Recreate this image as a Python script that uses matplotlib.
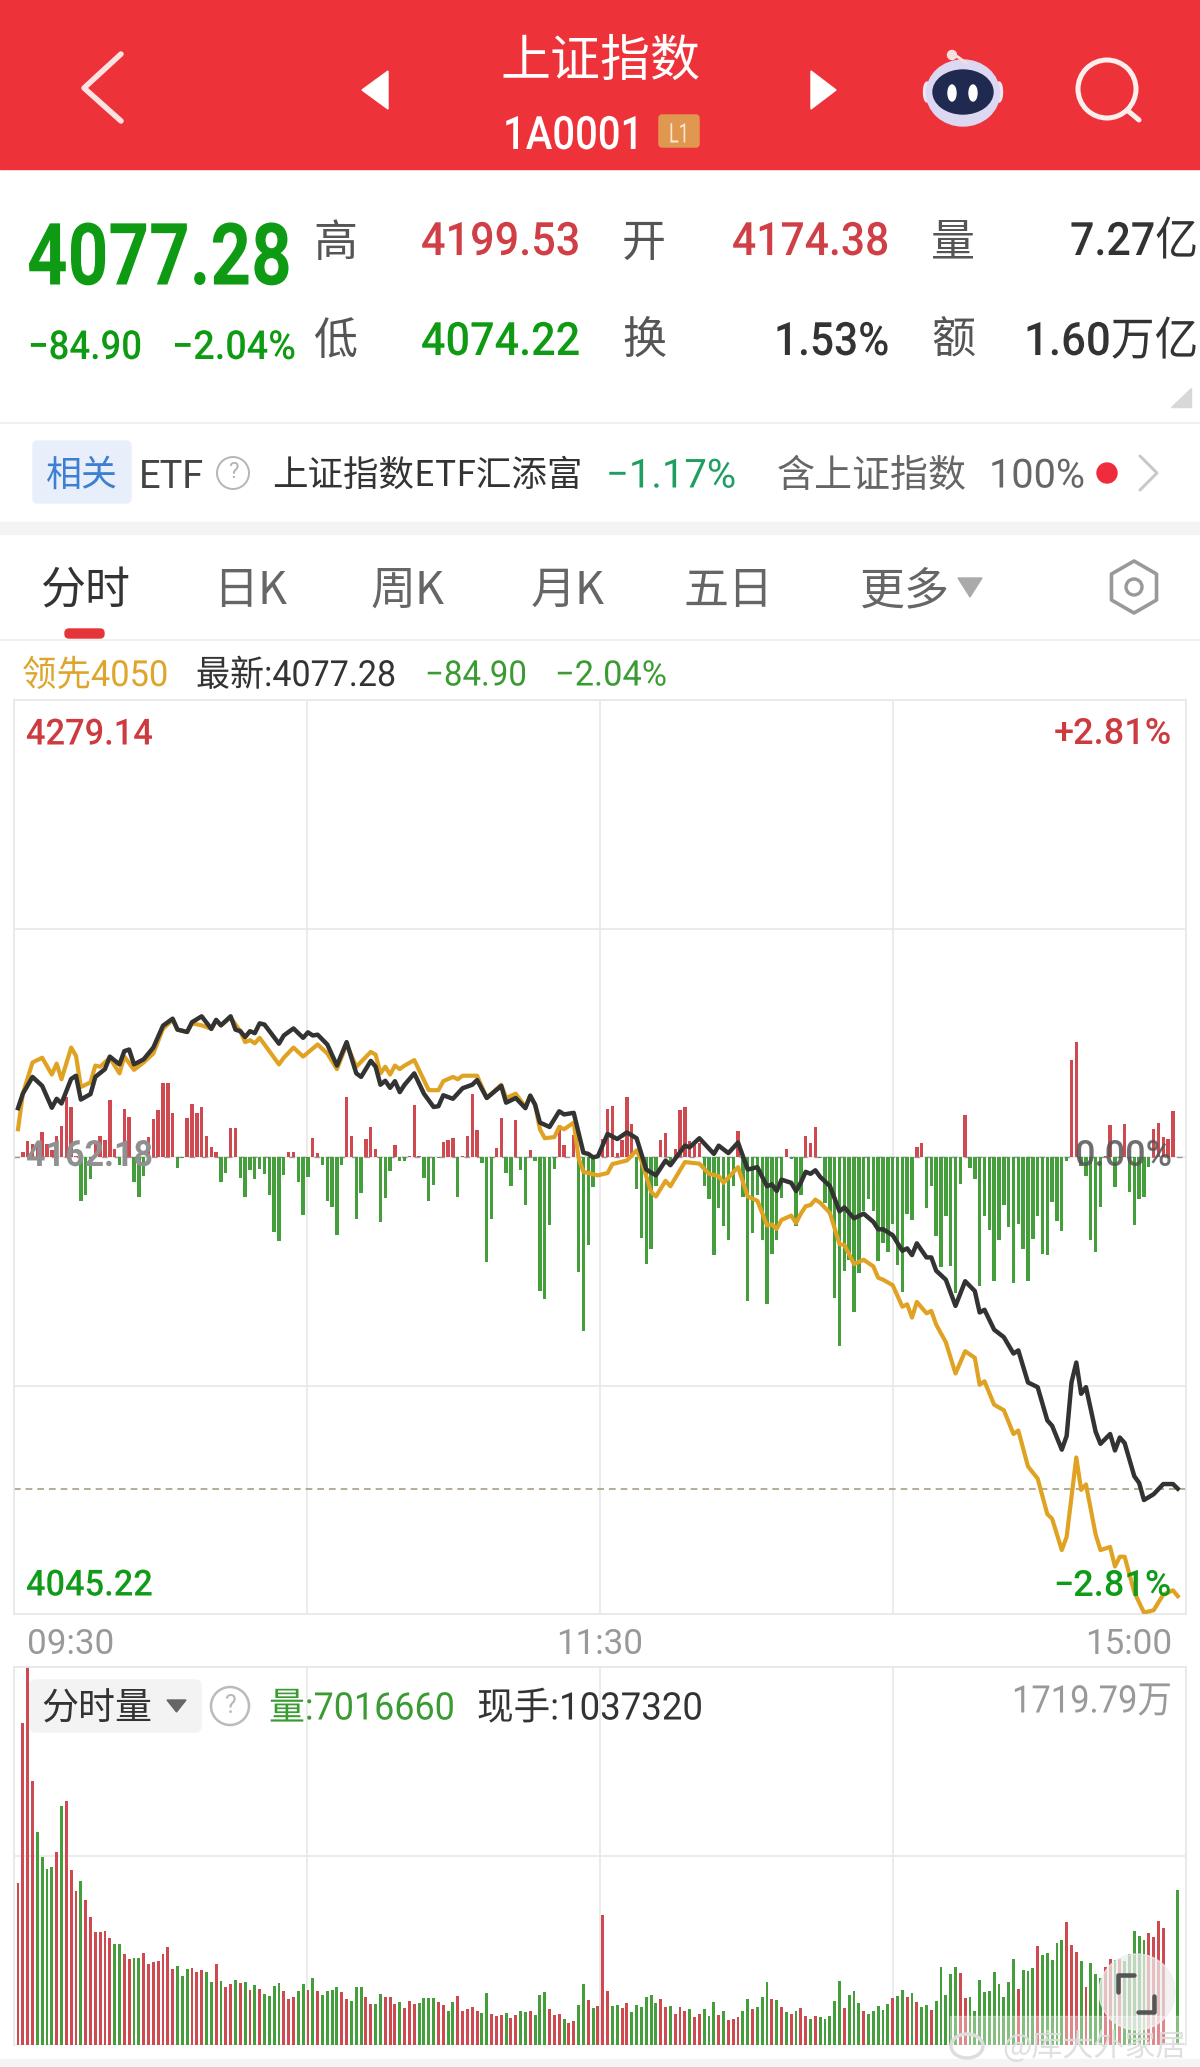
import numpy as np
import matplotlib.pyplot as plt
from matplotlib.patches import Circle, Ellipse, FancyBboxPatch, Polygon, Rectangle
from matplotlib.patheffects import AbstractPathEffect
from matplotlib.transforms import Affine2D

ROBOTO = ['Roboto', 'Noto Sans CJK SC', 'DejaVu Sans']
CJK = ['Noto Sans CJK SC', 'DejaVu Sans']
plt.rcParams['font.family'] = CJK

prev_close = 4162.18
price_top = 4279.14
price_bottom = 4045.22
vol_max = 1719.79

# index line, change from previous close at the given minute
index_min = [0, 1, 3, 5, 7, 8, 9, 11, 12, 13, 15, 16, 18, 19, 21, 22, 23, 24, 26, 28, 30, 32, 33, 35, 36, 38, 40, 41, 42, 44, 45, 46, 47, 48, 49, 50, 51, 54, 55, 57, 59, 60, 61, 62, 64, 66, 68, 70, 71, 73, 74, 75, 76, 77, 78, 79,
             80, 82, 84, 86, 87, 88, 90, 92, 94, 95, 97, 100, 101, 103, 105, 106, 107, 108, 110, 112, 113, 115, 117, 118, 119, 120, 122, 124, 126, 128, 130, 132, 134, 135, 138, 139, 141, 144, 145, 147, 149, 151, 153, 155, 156, 157, 158, 160, 161, 162,
             163, 164, 165, 166, 168, 170, 171, 173, 175, 177, 178, 179, 181, 183, 184, 185, 186, 188, 189, 190, 192, 194, 196, 198, 199, 200, 202, 204, 206, 207, 209, 211, 213, 214, 216, 217, 218, 219, 220, 221, 223, 224, 226, 227, 228, 229, 231, 232, 233, 235, 237, 239, 240]
index_chg = [12.5, 16.2, 20.5, 18.2, 12.6, 14.9, 13.7, 20.0, 20.8, 14.7, 16.1, 20.5, 22.5, 25.7, 23.7, 27.1, 27.5, 23.7, 25.0, 28.0, 33.6, 35.4, 32.6, 32.0, 34.5, 36.0, 32.8, 35.1, 33.7, 36.0, 32.6, 32.2, 30.7, 32.2, 31.7, 34.2, 33.9, 29.0, 31.1, 32.9, 30.5, 31.9, 31.1, 31.3, 28.8, 23.4, 29.4, 21.4, 20.5, 24.6, 23.1, 18.5, 19.5, 17.7, 19.4, 16.6,
             18.5, 21.4, 16.2, 12.8, 13.0, 15.8, 14.9, 17.6, 18.5, 19.7, 15.1, 18.2, 13.9, 15.1, 12.5, 15.7, 13.4, 8.8, 7.7, 11.7, 10.9, 11.3, 1.1, 0.8, -0.1, 0.2, 5.9, 4.6, 6.3, 4.8, -3.2, -4.7, -0.9, -2.1, 2.9, 2.5, 4.8, 0.8, 2.9, 1.0, 3.7, -3.2, -2.6, -7.5, -7.0, -8.7, -5.8, -6.6, -8.7, -6.5,
             -3.8, -4.3, -3.4, -5.1, -7.4, -13.9, -12.9, -15.7, -14.5, -16.6, -18.5, -18.5, -20.0, -24.0, -23.4, -25.1, -22.1, -25.7, -25.7, -29.1, -31.4, -38.1, -31.8, -34.3, -39.8, -39.1, -44.2, -46.1, -50.3, -49.5, -57.7, -58.9, -67.4, -68.8, -74.9, -71.4, -57.7, -52.6, -60.6, -58.9, -70.3, -73.4, -70.9, -75.1, -71.8, -73.2, -81.7, -83.4, -87.8, -86.3, -83.7, -83.7, -84.9]

# leading line (领先)
lead_min = [0, 1, 3, 5, 7, 8, 9, 11, 12, 13, 15, 16, 17, 19, 21, 22, 24, 26, 28, 30, 32, 33, 35, 36, 38, 40, 41, 42, 44, 46, 47, 48, 49, 50, 54, 55, 57, 59, 62, 64, 66, 68, 70, 73, 74, 75, 76, 77, 78, 79,
            80, 82, 84, 85, 87, 88, 90, 91, 92, 95, 97, 100, 101, 103, 105, 106, 107, 108, 109, 111, 112, 113, 115, 116, 117, 120, 122, 123, 126, 128, 129, 131, 132, 134, 135, 138, 141, 143, 145, 146, 149, 151, 153, 155, 156, 157, 158, 160, 161, 162,
            163, 164, 165, 166, 168, 170, 171, 173, 175, 177, 178, 179, 181, 183, 184, 185, 186, 188, 189, 190, 192, 194, 196, 198, 199, 200, 202, 204, 206, 207, 209, 211, 213, 214, 216, 217, 219, 220, 221, 223, 224, 226, 227, 228, 229, 231, 233, 235, 237, 239, 240]
lead_chg = [7.1, 16.2, 24.2, 25.4, 21.1, 23.9, 19.9, 28.0, 25.9, 17.9, 19.1, 23.4, 23.1, 25.4, 21.4, 25.7, 22.3, 24.2, 26.5, 32.8, 35.1, 32.6, 32.0, 34.2, 33.7, 32.8, 34.9, 33.7, 35.7, 32.2, 29.4, 29.9, 29.1, 30.5, 23.7, 25.4, 28.0, 25.7, 28.8, 26.5, 22.5, 28.8, 23.1, 26.9, 26.2, 21.4, 23.1, 21.1, 23.4, 22.5,
            23.4, 24.8, 19.7, 17.1, 17.1, 19.4, 20.5, 19.9, 20.8, 20.8, 15.1, 18.5, 15.1, 16.2, 12.8, 15.7, 13.4, 7.1, 4.8, 5.1, 7.7, 7.1, 8.8, -0.3, -3.8, -4.7, -4.1, -1.8, -0.9, 1.7, -0.9, -8.9, -10.1, -6.1, -7.5, -1.3, -1.7, -4.3, -4.9, -6.6, -2.6, -10.1, -11.2, -17.5, -17.3, -18.4, -16.1, -15.0, -16.9, -14.5,
            -12.6, -12.3, -10.9, -11.7, -14.3, -22.3, -22.5, -27.4, -26.3, -28.0, -30.9, -31.4, -32.8, -38.3, -37.7, -41.1, -37.1, -40.0, -39.4, -42.9, -47.4, -55.4, -49.7, -51.4, -58.3, -57.4, -63.4, -64.8, -70.9, -70.0, -79.2, -82.3, -91.4, -92.6, -100.6, -97.2, -76.9, -85.2, -83.8, -96.6, -100.6, -99.8, -104.8, -102.3, -102.3, -111.4, -116.6, -116.0, -112.0, -110.9, -112.4]

# red/green bars around the zero line, one per minute
diff_vals = [0, 12, 35, 30, 25, 55, 30, 15, 48, 70, 135, 112, 2, -98, -85, -50, 30, 48, 38, 128,
             18, -18, 107, 90, -57, -90, -42, 45, 85, 105, 165, 165, 98, -25, -3, 88, 118, 98, 113, 47,
             22, 12, -55, -35, 65, 65, -48, -90, -30, -50, -28, -38, -85, -168, -188, -40, 12, 12, -55, -130,
             -45, 42, 10, -18, -98, -112, -175, -18, 135, 48, -138, -80, 40, 68, 18, -145, -92, -32, 27, -8,
             -10, 3, 117, 2, -47, -98, -62, -3, 33, 37, 42, -90, 2, 48, 142, 60, -14, -235, -138, 20,
             88, -35, -65, 82, -30, -108, 15, -8, -300, -318, -152, -28, 72, 28, 0, 50, -258, -390, -198, -68,
             5, 40, 107, 115, 10, 38, 135, 75, -72, -182, -240, -207, -65, 38, 53, -12, 17, 105, 113, 35,
             30, 32, -65, -95, -220, -115, -155, -185, -65, 58, -90, -323, -170, -85, -185, -330, -218, -185, -92, 18,
             -5, -155, -85, 47, 32, 68, -3, -102, -130, -317, -423, -255, -230, -348, -260, -120, -95, -120, -233, -193,
             -213, -150, -241, -303, -127, -142, 23, 32, -115, -65, -177, -247, -133, -245, -305, -60, 95, -25, -50, -289,
             -132, -163, -278, -185, -107, -157, -282, -150, -207, -278, -183, -133, -217, -220, -100, -143, -165, -10, 217, 257,
             -20, -43, -185, -212, -113, 2, 72, -68, -3, 75, -78, -153, -93, -90, -23, 62, 77, 45, 40, 102, 0]

# per minute volume in 万
vol_vals = [736, 1465, 1720, 1202, 967, 855, 802, 809, 879, 1088, 1110, 794, 701, 747, 660, 584, 516, 513, 519, 489,
            460, 458, 413, 392, 398, 398, 420, 369, 376, 383, 413, 445, 346, 358, 314, 345, 351, 332, 342, 334,
            288, 369, 291, 263, 276, 294, 282, 285, 250, 275, 254, 231, 223, 270, 281, 246, 209, 219, 244, 279,
            249, 305, 247, 229, 244, 250, 266, 243, 211, 200, 266, 263, 217, 187, 187, 232, 219, 217, 188, 194,
            168, 200, 187, 193, 213, 216, 213, 196, 181, 153, 197, 225, 155, 164, 172, 153, 146, 237, 140, 134,
            138, 144, 123, 135, 153, 152, 155, 137, 226, 243, 164, 137, 140, 117, 102, 108, 184, 276, 205, 167,
            178, 592, 246, 178, 184, 168, 190, 150, 181, 173, 217, 228, 193, 209, 173, 178, 141, 173, 153, 162,
            129, 143, 162, 132, 194, 137, 156, 112, 117, 126, 156, 211, 164, 173, 217, 288, 208, 206, 173, 149,
            140, 153, 167, 132, 118, 132, 128, 118, 131, 199, 291, 167, 228, 244, 193, 153, 141, 153, 178, 159,
            187, 213, 223, 252, 220, 238, 197, 172, 181, 159, 202, 354, 228, 322, 357, 326, 213, 220, 155, 294,
            243, 246, 334, 278, 217, 288, 390, 255, 342, 337, 352, 452, 408, 417, 389, 466, 478, 560, 457, 422,
            383, 266, 372, 322, 307, 357, 390, 387, 390, 380, 416, 518, 496, 477, 509, 493, 563, 534, 0, 0, 703]
vol_sides = ('rrrrggggrg' 'rrrgrrrrrr' 'ggrrggrrrr' 'rrrgggrrrg' 'grgrrgrgrg' 'rggggrrrgg'
             'rgrggggrrg' 'ggrrggrrrg' 'rrrggggrrg' 'grrrrrggrr' 'rgrrggrggg' 'rrrgrrggrg'
             'rrrggrrggg' 'gggrrgrrrg' 'rrgggrgrrr' 'ggrgggrgrg' 'rgrrgrgggg' 'grgggrgggg'
             'grggrgrggr' 'gggggrrggg' 'gggggggrgg' 'grgggggrrr' 'grgggrrgrg' 'ggggrrrrgg' 'g')

RED = '#cf3f45'
GREEN = '#0e9a12'
BAR_RED = '#cf4a50'
BAR_GREEN = '#459e3c'
GRID = '#e8e8e8'
W, H = 1200, 2067


class Squeeze(AbstractPathEffect):
    # no condensed font installed, so narrow the glyphs around the text anchor
    def __init__(self, x0, k):
        super().__init__()
        self.x0, self.k = x0, k

    def draw_path(self, renderer, gc, tpath, affine, rgbFace):
        narrow = affine + Affine2D().translate(-self.x0, 0).scale(self.k, 1).translate(self.x0, 0)
        renderer.draw_path(gc, tpath, narrow, rgbFace)


def panel(y0, y1):
    return fig.add_axes([14 / W, 1 - y1 / H, 1172 / W, (y1 - y0) / H])


def style_grid(ax, yticks):
    ax.set_xlim(-0.83, 241.7)
    ax.set_xticks(np.linspace(-0.83, 241.7, 5))
    ax.set_yticks(yticks)
    ax.grid(True, color=GRID, lw=1.2)
    ax.set_axisbelow(True)
    ax.tick_params(length=0, labelbottom=False, labelleft=False)
    for s in ax.spines.values():
        s.set_color(GRID)
        s.set_linewidth(1.2)


fig = plt.figure(figsize=(12, 20.67), dpi=100, facecolor='white')

# price panel
ax = panel(700, 1614)
style_grid(ax, np.linspace(price_bottom, price_top, 5))
ax.set_ylim(price_bottom, price_top)
ax.axhline(prev_close, color='#999999', lw=1, dashes=(4, 5), zorder=1)
ax.axhline(prev_close + index_chg[-1], color='#a89f84', lw=1.2, dashes=(4, 3), zorder=1)

# the bars have their own scale, zero stays on the previous close
ax_diff = ax.twinx()
ax_diff.set_ylim(-1024, 1024)
ax_diff.axis('off')
minutes = np.arange(len(diff_vals))
ax_diff.bar(minutes, diff_vals, width=0.7, color=[BAR_RED if v > 0 else BAR_GREEN for v in diff_vals], zorder=2)

ax_lines = ax.twinx()
ax_lines.set_ylim(price_bottom, price_top)
ax_lines.axis('off')
ax_lines.plot(lead_min, prev_close + np.array(lead_chg), color='#e0a222', lw=3.0, solid_joinstyle='round')
ax_lines.plot(index_min, prev_close + np.array(index_chg), color='#333333', lw=3.2, solid_joinstyle='round')

# volume panel
ax_vol = panel(1667, 2045)
style_grid(ax_vol, [0, vol_max / 2, vol_max])
ax_vol.set_ylim(0, vol_max)
vol_colors = [BAR_RED if s == 'r' else BAR_GREEN for s in vol_sides]
ax_vol.bar(np.arange(len(vol_vals)), vol_vals, width=0.6, color=vol_colors, zorder=2)
ax_vol.spines['bottom'].set_visible(False)

# everything around the charts, in picture pixels
ui = fig.add_axes([0, 0, 1, 1], facecolor='none')
ui.set_xlim(0, W)
ui.set_ylim(H, 0)
ui.axis('off')
rend = fig.canvas.get_renderer()


def label(x, y, s, px, color, ha='left', family=ROBOTO, weight='normal', alpha=1.0, width=None):
    t = ui.text(x, y + 12, s, fontsize=px * 0.72, color=color, ha=ha, va='center', family=family,
                fontweight=weight, alpha=alpha)
    if width is not None:
        # width = width the text has in the picture
        k = min(1.0, width / t.get_window_extent(rend).width)
        t.set_path_effects([Squeeze(ui.transData.transform((x, 0))[0], k)])
    return t


def stroke(xs, ys, color, lw):
    ui.plot(xs, ys, color=color, lw=lw * 0.72, solid_capstyle='round', solid_joinstyle='round')


# red header
ui.add_patch(Rectangle((0, 0), W, 169, color='#ee323a'))
stroke([121, 84, 121], [54, 88, 121], '#fbe3e3', 5.5)
ui.add_patch(Polygon([(388, 71), (388, 109), (362, 90)], color='white'))
ui.add_patch(Polygon([(811, 71), (811, 109), (836, 90)], color='white'))
label(600, 50, '上证指数', 50, 'white', ha='center', family=CJK)
label(503, 124, '1A0001', 46, 'white', weight='medium', width=140)
ui.add_patch(FancyBboxPatch((659, 115), 40, 32, boxstyle='round,pad=0,rounding_size=3', color='#e09850'))
label(679, 123, 'L1', 27, '#fbe6cf', ha='center', width=20)

# robot and magnifier
stroke([952, 958, 966], [55, 57, 63], '#f6dede', 3)
ui.add_patch(Circle((952, 55), 4.5, color='#f8e0e0'))
ui.add_patch(Ellipse((927, 92), 7, 20, color='#efe6f6'))
ui.add_patch(Ellipse((999, 92), 7, 20, color='#efe6f6'))
ui.add_patch(Ellipse((963, 93), 73, 66, color='#dcd8f2'))
ui.add_patch(Ellipse((963, 92), 60, 44, color='#20294f'))
ui.add_patch(Ellipse((952, 93), 8, 16, color='white'))
ui.add_patch(Ellipse((973, 93), 8, 16, color='white'))
ui.add_patch(Circle((1107, 89), 29, fill=False, ec='#fdeeee', lw=3.6))
stroke([1127, 1139], [110, 120], '#fdeeee', 5)

# quote block
label(27, 249, '4077.28', 86, GREEN, weight='bold', width=265)
label(28, 336, '−84.90', 40, GREEN, weight='medium', width=114)
label(172, 336, '−2.04%', 40, GREEN, weight='medium', width=124)
label(335, 231, '高', 44, '#555555', ha='center', family=CJK)
label(335, 329, '低', 44, '#555555', ha='center', family=CJK)
label(580, 230, '4199.53', 46, RED, ha='right', weight='medium', width=159)
label(580, 330, '4074.22', 46, GREEN, ha='right', weight='medium', width=159)
label(644, 231, '开', 44, '#555555', ha='center', family=CJK)
label(644, 329, '换', 44, '#555555', ha='center', family=CJK)
label(889, 230, '4174.38', 46, RED, ha='right', weight='medium', width=157)
label(889, 330, '1.53%', 46, '#333333', ha='right', weight='medium', width=115)
label(953, 231, '量', 44, '#555555', ha='center', family=CJK)
label(953, 329, '额', 44, '#555555', ha='center', family=CJK)
label(1198, 230, '7.27亿', 46, '#333333', ha='right', weight='medium', width=128)
label(1198, 330, '1.60万亿', 46, '#333333', ha='right', weight='medium', width=174)
ui.add_patch(Polygon([(1171, 407), (1191, 407), (1191, 388)], color='#d8d8d8'))
ui.plot([0, W], [423, 423], color='#eeeeee', lw=1.2)

# ETF row
ui.add_patch(FancyBboxPatch((33, 441), 98, 62, boxstyle='round,pad=0,rounding_size=5', color='#e8effb'))
label(82, 464, '相关', 36, '#3e7fd2', ha='center', family=CJK)
label(139, 465, 'ETF', 38, '#444444')
ui.add_patch(Circle((233, 473), 16, fill=False, ec='#b5b5b5', lw=1.4))
label(233, 461, '?', 22, '#b0b0b0', ha='center')
label(272, 464, '上证指数ETF汇添富', 35.5, '#333333', family=CJK)
label(606, 464, '−1.17%', 40, '#1f9e62', width=131)
label(777, 464, '含上证指数', 38, '#666666', family=CJK)
label(989, 464, '100%', 40, '#666666', width=96)
ui.add_patch(Circle((1107, 473), 10, color='#ee2c3c'))
stroke([1140, 1157, 1140], [456, 473, 490], '#c8c8c8', 3)
ui.add_patch(Rectangle((0, 522), W, 12, color='#f4f4f4'))

# tabs
label(85, 579, '分时', 45, '#333333', ha='center', family=CJK)
for x, s in [(250, '日K'), (408, '周K'), (568, '月K'), (729, '五日'), (905, '更多')]:
    label(x, 579, s, 45, '#666666', ha='center', family=CJK)
ui.add_patch(Polygon([(958, 578), (982, 578), (970, 597)], color='#aaaaaa'))
hex_ang = np.radians(np.arange(30, 390, 60))
ui.add_patch(Polygon(np.column_stack([1134 + 26 * np.cos(hex_ang), 587 + 26 * np.sin(hex_ang)]),
                     fill=False, ec='#999999', lw=2.6, joinstyle='round'))
ui.add_patch(Circle((1134, 587), 8, fill=False, ec='#999999', lw=2.4))
ui.add_patch(FancyBboxPatch((65, 629), 39, 9, boxstyle='round,pad=0,rounding_size=4', color='#e5343a'))
ui.plot([0, W], [640, 640], color='#eeeeee', lw=1.2)

# line under tabs
label(22, 664, '领先4050', 36, '#dda52c', width=146)
label(196, 664, '最新:4077.28', 36, '#333333', width=200)
label(425, 664, '−84.90', 35, '#3a9b32', width=102)
label(555, 664, '−2.04%', 35, '#3a9b32', width=112)

# price panel labels
label(26, 723, '4279.14', 36, '#cc3b40', weight='medium', width=127)
label(1172, 723, '+2.81%', 36, '#cc3b40', ha='right', weight='medium')
label(26, 1144, '4162.18', 36, '#909090', weight='bold', width=127)
label(1172, 1144, '0.00%', 36, '#555555', ha='right', weight='medium', alpha=0.85)
label(26, 1574, '4045.22', 36, '#109a1a', weight='medium', width=127)
label(1172, 1575, '−2.81%', 36, '#109a1a', ha='right', weight='medium')
label(27, 1633, '09:30', 35, '#999999')
label(600, 1633, '11:30', 35, '#999999', ha='center')
label(1172, 1633, '15:00', 35, '#999999', ha='right')

# volume panel labels
ui.add_patch(FancyBboxPatch((30, 1680), 171, 52, boxstyle='round,pad=0,rounding_size=6', color='#f3f3f3'))
label(41, 1697, '分时量', 37, '#333333', family=CJK)
ui.add_patch(Polygon([(167, 1700), (186, 1700), (176.5, 1712)], color='#666666'))
ui.add_patch(Circle((230, 1706), 19, fill=False, ec='#bbbbbb', lw=1.8))
label(230, 1694, '?', 25, '#b8b8b8', ha='center')
label(269, 1697, '量:7016660', 38, '#3a9b32', width=186)
label(477, 1697, '现手:1037320', 38, '#333333', width=226)
label(1172, 1690, '1719.79万', 38, '#999999', ha='right', width=160)

# fullscreen button and watermark over the bars
ui.add_patch(Circle((1137, 1992), 38, color='#eeeeee', alpha=0.72))
stroke([1118, 1118, 1134], [1992, 1975, 1975], '#555555', 4.5)
stroke([1154, 1154, 1138], [1996, 2012, 2012], '#555555', 4.5)
ui.add_patch(Rectangle((950, 2016), 232, 29, color='white', alpha=0.35))
ui.add_patch(Rectangle((0, 2059), W, 8, color='#f4f4f4'))
ui.add_patch(Ellipse((967, 2046), 32, 24, fill=False, ec='#dddddd', lw=2.5))
label(1002, 2035, '@库大外家居', 31, '#dddddd', family=CJK, alpha=0.9)

fig.savefig('out.png', dpi=100)
